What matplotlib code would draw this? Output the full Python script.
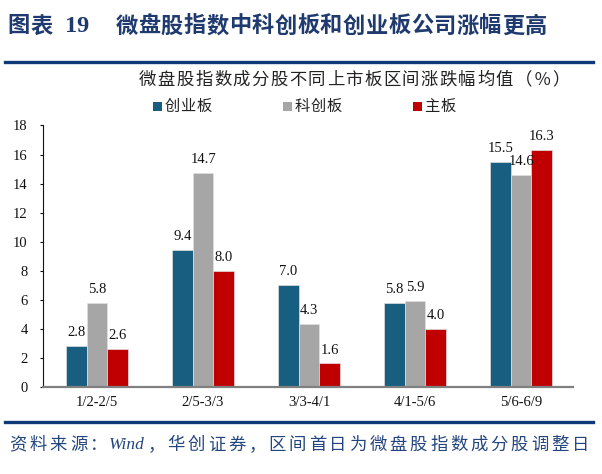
import matplotlib
matplotlib.use("Agg")
import matplotlib.pyplot as plt
from matplotlib.patches import Rectangle
from matplotlib.lines import Line2D
import numpy as np

# ---------------- data ----------------
categories = ["1/2-2/5", "2/5-3/3", "3/3-4/1", "4/1-5/6", "5/6-6/9"]
series_names = ["创业板", "科创板", "主板"]
chuangye = [2.8, 9.4, 7.0, 5.8, 15.5]
kechuang = [5.8, 14.7, 4.3, 5.9, 14.6]
zhuban = [2.6, 8.0, 1.6, 4.0, 16.3]
yticks = [0, 2, 4, 6, 8, 10, 12, 14, 16, 18]
title_prefix = "图表"
title_num = "19"
title_main = "微盘股指数中科创板和创业板公司涨幅更高"
subtitle = "微盘股指数成分股不同上市板区间涨跌幅均值（％）"
source = "资料来源：Wind，华创证券，区间首日为微盘股指数成分股调整日"

colors = ["#175E80", "#A6A6A6", "#C00000"]
series = [chuangye, kechuang, zhuban]

W, H = 602, 474
fig = plt.figure(figsize=(W / 100, H / 100), dpi=100)
renderer = fig.canvas.get_renderer()

CJK = "Noto Sans CJK SC"
SERIF = "Liberation Serif"


def spaced_text(x, y, s, adv, size, color, weight="normal", latin=SERIF, style="normal"):
    """Place text char by char (pixel coords from top-left) with fixed advance for CJK."""
    cx = x
    run = ""
    for ch in s + "\0":
        if ch == "\0" or ord(ch) > 0x2000:
            if run:
                t = fig.text(cx / W, 1 - y / H, run, family=[latin], fontsize=size,
                             color=color, weight=weight, style=style,
                             ha="left", va="center")
                cx += t.get_window_extent(renderer).width + 1
                run = ""
            if ch != "\0":
                fig.text((cx + adv / 2) / W, 1 - y / H, ch, family=[CJK, "DejaVu Sans"],
                         fontsize=size, color=color, weight=weight,
                         ha="center", va="center")
                cx += adv
        else:
            run += ch
    return cx


# ---------------- header ----------------
title_color = "#1F3A6E"
spaced_text(7, 26, title_prefix, 23, 16, title_color, weight="bold")
fig.text(65 / W, 1 - 27 / H, title_num, family=[SERIF], fontsize=17.5, weight="bold",
         color=title_color, ha="left", va="center")
spaced_text(115, 26, title_main, 22.75, 16, title_color, weight="bold")

line_color = "#0E3B78"
fig.add_artist(Line2D([5 / W, 593 / W], [1 - 62 / H, 1 - 62 / H], color=line_color,
                      lw=2.4, transform=fig.transFigure))
fig.add_artist(Line2D([5 / W, 593 / W], [1 - 422 / H, 1 - 422 / H], color=line_color,
                      lw=2.4, transform=fig.transFigure))

spaced_text(138, 80, subtitle, 18.8, 12.5, "#222222")

# legend (manual)
leg_x = [153, 283, 413]
for lx, name, c in zip(leg_x, series_names, colors):
    fig.add_artist(Rectangle((lx / W, 1 - 111 / H), 9 / W, 9 / H, facecolor=c,
                             edgecolor="none", transform=fig.transFigure))
    spaced_text(lx + 11, 106.5, name, 16, 11, "#222222")

# source
spaced_text(8, 445, source, 20.2, 12.5, "#23467E", style="italic")

# ---------------- axes ----------------
ax = fig.add_axes([43 / W, (H - 386.7) / H, 530 / W, 261.2 / H])
x = np.arange(len(categories))
bw = 0.193
offs = [-bw, 0, bw]
for vals, off, c, name in zip(series, offs, colors, series_names):
    bars = ax.bar(x + off, vals, width=bw, color=c, edgecolor="#E0E0E0",
                  linewidth=0.5, label=name, zorder=2)
    for b, v in zip(bars, vals):
        ax.annotate(f"{v:.1f}", (b.get_x() + b.get_width() / 2, v),
                    xytext=(0, 5), textcoords="offset points",
                    ha="center", va="bottom", family=SERIF, fontsize=10.5,
                    color="#111111")

ax.set_ylim(0, 18)
ax.set_xlim(-0.51, 4.49)
ax.set_yticks(yticks)
ax.set_yticklabels([str(v) for v in yticks], family=SERIF, fontsize=10.5)
ax.set_xticks(x)
ax.set_xticklabels(categories, family=SERIF, fontsize=10.5)
ax.tick_params(axis="y", direction="out", length=2.5, width=0.8, pad=8.5, colors="#111111")
ax.tick_params(axis="x", length=0, pad=7, colors="#111111")
for s in ["top", "right"]:
    ax.spines[s].set_visible(False)
ax.spines["left"].set_color("#111111")
ax.spines["left"].set_linewidth(0.8)
ax.spines["bottom"].set_color("#808080")
ax.spines["bottom"].set_linewidth(1.6)
ax.spines["bottom"].set_zorder(3)

fig.savefig("out.png", dpi=100)
